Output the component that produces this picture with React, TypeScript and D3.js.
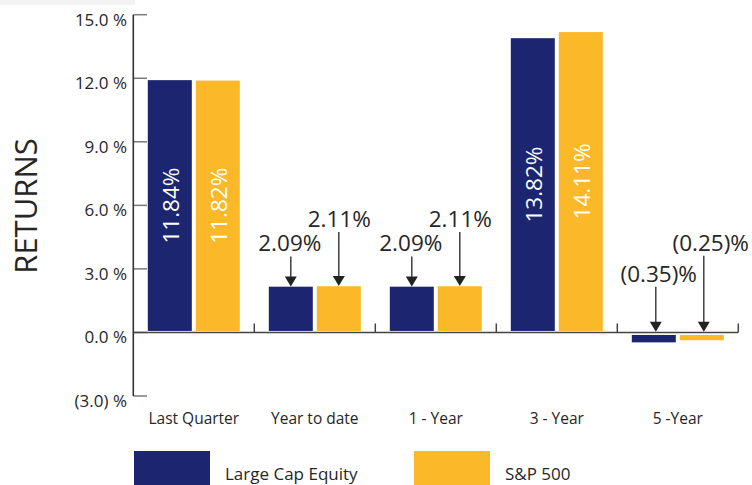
import React from 'react';
import * as d3 from 'd3';

const categories = ['Last Quarter', 'Year to date', '1 - Year', '3 - Year', '5 -Year'];
const seriesNames = ['Large Cap Equity', 'S&P 500'];
const largeCapEquity = [11.84, 2.09, 2.09, 13.82, -0.35];
const sp500 = [11.82, 2.11, 2.11, 14.11, -0.25];
const yTickValues = [-3, 0, 3, 6, 9, 12, 15];

const seriesValues = [largeCapEquity, sp500];
const colors = ['#1b2570', '#fbb829'];
const textColor = '#262626';
const FONT = "'Open Sans', 'Noto Sans', sans-serif";

const W = 752;
const H = 485;

export default function App() {
  const x0 = d3.scaleBand<string>().domain(categories).range([133.3, 738.3]);
  const x1 = d3
    .scaleBand<string>()
    .domain(seriesNames)
    .range([14.5, x0.bandwidth() - 14.5])
    .paddingInner(4 / 48)
    .paddingOuter(0);
  const y = d3.scaleLinear().domain([-3, 15]).range([396, 14.7]);
  const y0 = y(0);

  const fmtTick = (v: number) => (v < 0 ? `(${Math.abs(v).toFixed(1)}) %` : `${v.toFixed(1)} %`);
  const fmtVal = (v: number) => (v < 0 ? `(${Math.abs(v).toFixed(2)})%` : `${v.toFixed(2)}%`);

  // annotation layout (label rise above arrow tip, horizontal shift) per series
  const rise = { pos: [35, 59], neg: [50, 81] };
  const shift = { pos: [-1, 0.5], neg: [3, 7] };

  const bars: any[] = [];
  categories.forEach((c, ci) => {
    seriesNames.forEach((s, si) => {
      const v = seriesValues[si][ci];
      const bx = (x0(c) as number) + (x1(s) as number);
      const bw = x1.bandwidth();
      let top: number, bottom: number;
      if (v >= 0) {
        top = y(v) - 1.5;
        bottom = y0 - 1.5;
      } else {
        top = y0 + 2.5;
        bottom = y(v) + 2.5;
      }
      bars.push({ c, s, ci, si, v, bx, bw, top, bottom });
    });
  });

  return (
    <svg
      width={W}
      height={H}
      style={{ position: 'absolute', left: 0, top: 0, background: '#fff' }}
      fontFamily={FONT}
    >
      <rect x={0} y={0} width={135} height={5} fill="#f3f3f3" />

      {/* Y axis title */}
      <text
        transform={`translate(37,206) rotate(-90)`}
        textAnchor="middle"
        fontSize={31}
        fill={textColor}
      >
        RETURNS
      </text>

      {/* y ticks */}
      {yTickValues.map((v) => (
        <g key={v}>
          <line x1={133.3} x2={147} y1={y(v)} y2={y(v)} stroke="#7a7a7a" strokeWidth={1.5} />
          <text
            x={127}
            y={y(v) + 4.5}
            textAnchor="end"
            dominantBaseline="central"
            fontSize={17}
            fill={textColor}
          >
            {fmtTick(v)}
          </text>
        </g>
      ))}

      {/* bars */}
      {bars.map((b) => (
        <rect
          key={`${b.c}-${b.s}`}
          x={b.bx}
          y={b.top}
          width={b.bw}
          height={b.bottom - b.top}
          fill={colors[b.si]}
        />
      ))}

      {/* axis lines */}
      <line x1={133.3} x2={133.3} y1={y(15)} y2={y(-3)} stroke="#333" strokeWidth={1.6} />
      <line x1={133.3} x2={738.3} y1={y0} y2={y0} stroke="#444" strokeWidth={1.6} />
      {categories.slice(1).concat(['__end']).map((c, i) => {
        const xx = 133.3 + x0.step() * (i + 1);
        return <line key={c} x1={xx} x2={xx} y1={y0} y2={y0 - 9} stroke="#444" strokeWidth={1.5} />;
      })}

      {/* labels */}
      {bars.map((b) => {
        const cx = b.bx + b.bw / 2;
        if (Math.abs(b.v) > 5) {
          const cy = (b.top + b.bottom) / 2;
          return (
            <text
              key={`l-${b.c}-${b.s}`}
              transform={`translate(${cx + 0.5},${cy}) rotate(-90)`}
              textAnchor="middle"
              dominantBaseline="central"
              fontSize={22.5}
              fill="#ffffff"
            >
              {fmtVal(b.v)}
            </text>
          );
        }
        const tipY = b.v >= 0 ? b.top - 0.3 : y0 - 0.6;
        const key = b.v >= 0 ? 'pos' : 'neg';
        const baseY = tipY - (rise as any)[key][b.si];
        const ax = cx + (b.v >= 0 ? 0 : 2);
        return (
          <g key={`a-${b.c}-${b.s}`}>
            <text
              x={ax + (shift as any)[key][b.si]}
              y={baseY}
              textAnchor="middle"
              fontSize={22.5}
              fill={textColor}
            >
              {fmtVal(b.v)}
            </text>
            <line x1={ax} x2={ax} y1={baseY + 5} y2={tipY - 8} stroke="#333" strokeWidth={1.4} />
            <path
              d={`M${ax - 6},${tipY - 10} L${ax + 6},${tipY - 10} L${ax},${tipY} Z`}
              fill="#222"
            />
          </g>
        );
      })}

      {/* category labels */}
      {categories.map((c) => (
        <text
          key={c}
          x={(x0(c) as number) + x0.bandwidth() / 2}
          y={424.3}
          textAnchor="middle"
          fontSize={15.5}
          fill={textColor}
        >
          {c}
        </text>
      ))}

      {/* legend */}
      {seriesNames.map((s, i) => {
        const lx = i === 0 ? 134 : 414;
        return (
          <g key={s}>
            <rect x={lx} y={451} width={76} height={40} fill={colors[i]} />
            <text x={lx + 91} y={480} fontSize={17} fill={textColor}>
              {s}
            </text>
          </g>
        );
      })}
    </svg>
  );
}
